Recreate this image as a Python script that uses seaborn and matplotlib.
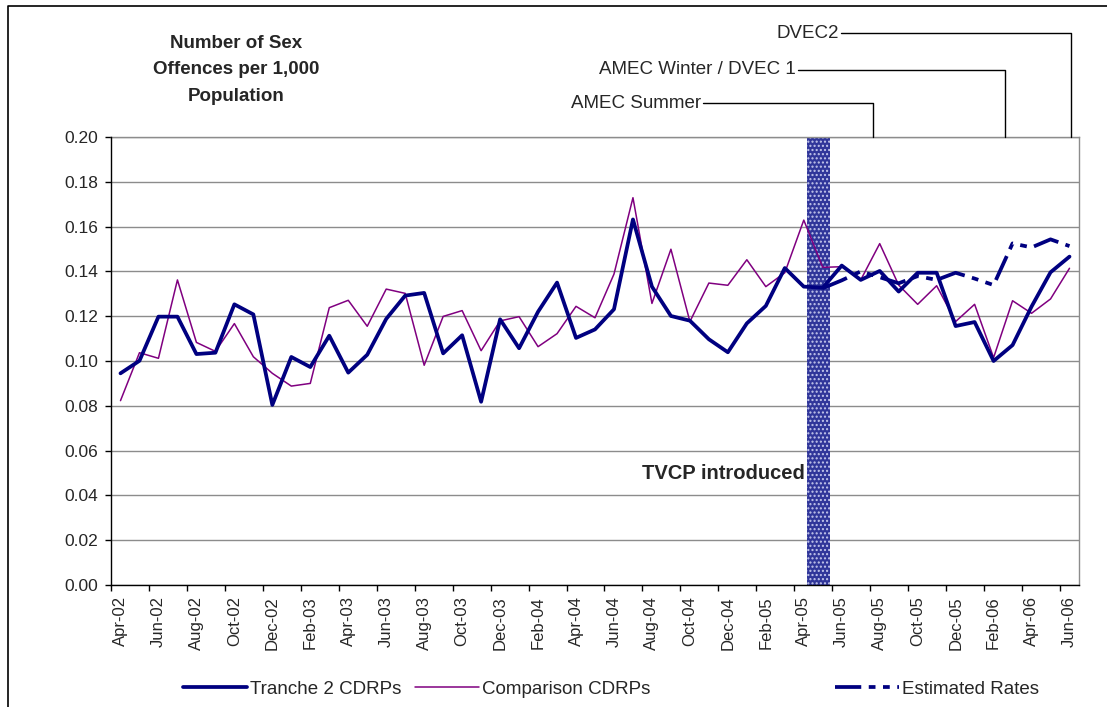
import numpy as np
import pandas as pd
import matplotlib
matplotlib.use("Agg")
import matplotlib.pyplot as plt
from matplotlib.lines import Line2D
import seaborn as sns

# ---------------- data ----------------
tick_labels = ["Apr-02", "Jun-02", "Aug-02", "Oct-02", "Dec-02", "Feb-03", "Apr-03",
               "Jun-03", "Aug-03", "Oct-03", "Dec-03", "Feb-04", "Apr-04", "Jun-04",
               "Aug-04", "Oct-04", "Dec-04", "Feb-05", "Apr-05", "Jun-05", "Aug-05",
               "Oct-05", "Dec-05", "Feb-06", "Apr-06", "Jun-06"]

tranche2 = [0.0945, 0.1001, 0.1198, 0.1198, 0.1031, 0.1037, 0.1253, 0.1208, 0.0804, 0.1018,
            0.0973, 0.1113, 0.0948, 0.1028, 0.1188, 0.1292, 0.1304, 0.1034, 0.1115, 0.0818,
            0.1186, 0.1057, 0.1220, 0.1350, 0.1103, 0.1141, 0.1231, 0.1632, 0.1332, 0.1201,
            0.1180, 0.1097, 0.1039, 0.1168, 0.1246, 0.1415, 0.1332, 0.1327, 0.1426, 0.1362,
            0.1402, 0.1310, 0.1394, 0.1394, 0.1156, 0.1174, 0.1000, 0.1071, 0.1243, 0.1396,
            0.1466]

comparison = [0.0823, 0.1037, 0.1012, 0.1362, 0.1083, 0.1043, 0.1167, 0.1019, 0.0945, 0.0888,
              0.0900, 0.1238, 0.1271, 0.1155, 0.1321, 0.1302, 0.0981, 0.1199, 0.1225, 0.1046,
              0.1179, 0.1198, 0.1064, 0.1122, 0.1244, 0.1193, 0.1388, 0.1729, 0.1257, 0.1499,
              0.1176, 0.1348, 0.1338, 0.1452, 0.1332, 0.1394, 0.1629, 0.1418, 0.1421, 0.1362,
              0.1524, 0.1339, 0.1253, 0.1336, 0.1176, 0.1253, 0.1015, 0.1269, 0.1213, 0.1277,
              0.1414]

estimated_start = 37  # May-05
estimated = [0.1325, 0.1360, 0.1400, 0.1374, 0.1347, 0.1379, 0.1362, 0.1394, 0.1368,
             0.1339, 0.1525, 0.1507, 0.1543, 0.1513]

events = ["AMEC Summer", "AMEC Winter / DVEC 1", "DVEC2"]
event_x = [39.63, 46.62, 50.06]

title_text = "Number of Sex\nOffences per 1,000\nPopulation"
band_label = "TVCP introduced"
band_range = (36.15, 37.40)

# ---------------- style ----------------
sns.set_style("white")
plt.rcParams["font.family"] = ["Liberation Sans", "DejaVu Sans"]

NAVY = "#000080"
PURPLE = "#800080"
GRID = "#8c8c8c"
DASH = (0, (7, 2.0, 1.8, 2.0, 1.8, 2.0))

W, H = 1107, 707
fig = plt.figure(figsize=(W / 100, H / 100), dpi=100)
ax = fig.add_axes([111 / W, 1 - 585 / H, (1079 - 111) / W, (585 - 137) / H])

n = len(tranche2)
df = pd.DataFrame({"idx": np.arange(n), "tranche2": tranche2, "comparison": comparison})
df_est = pd.DataFrame({"idx": np.arange(estimated_start, estimated_start + len(estimated)),
                       "est": estimated})

# band
ax.axvspan(band_range[0], band_range[1], facecolor="#30369a", edgecolor="#c4c7ec",
           hatch="....", linewidth=0, zorder=1)

sns.lineplot(data=df, x="idx", y="comparison", ax=ax, color=PURPLE, linewidth=1.1, zorder=3)
sns.lineplot(data=df, x="idx", y="tranche2", ax=ax, color=NAVY, linewidth=2.7, zorder=4)
sns.lineplot(data=df_est, x="idx", y="est", ax=ax, color=NAVY, linewidth=2.7,
             linestyle=DASH, zorder=5)

ax.set_xlim(-0.5, n - 0.5)
ax.set_ylim(0, 0.20)
ax.set_xlabel("")
ax.set_ylabel("")

# y axis
ax.set_yticks(np.arange(0, 0.2001, 0.02))
ax.set_yticklabels([f"{v:.2f}" for v in np.arange(0, 0.2001, 0.02)])
ax.tick_params(axis="y", direction="out", length=4, width=1, color="black",
               labelsize=12.5, pad=5, left=True)
ax.yaxis.grid(True, color=GRID, linewidth=1.0, zorder=0)
ax.set_axisbelow(True)

# x axis
ax.set_xticks(np.arange(0, n, 2))
ax.set_xticklabels(tick_labels, rotation=90)
ax.set_xticks(np.arange(-0.5, n - 1, 2), minor=True)
ax.tick_params(axis="x", which="major", length=0, labelsize=12, pad=8)
ax.tick_params(axis="x", which="minor", direction="out", length=4, width=1,
               color="black", bottom=True)

for s in ["left", "bottom"]:
    ax.spines[s].set_color("black")
    ax.spines[s].set_linewidth(1.0)
for s in ["top", "right"]:
    ax.spines[s].set_color(GRID)
    ax.spines[s].set_linewidth(1.0)
ax.spines["left"].set_zorder(6)
ax.spines["bottom"].set_zorder(6)

# band label
ax.text(band_range[0] - 0.1, 0.0496, band_label, ha="right", va="center",
        fontsize=14.5, fontweight="bold", zorder=7)

# title
fig.text(236 / W, 1 - 70 / H, title_text, ha="center", va="center", fontsize=13.5,
         fontweight="bold", linespacing=1.7)

# event annotations
top_fig = 1 - 137 / H
text_right = [701, 796, 839]
text_y = [103, 70, 33]
for lab, xd, xr, yy in zip(events, event_x, text_right, text_y):
    xpix = ax.transData.transform((xd, 0))[0]
    xf = xpix / W
    yf = 1 - yy / H
    fig.add_artist(Line2D([(xr + 2) / W, xf, xf], [yf, yf, top_fig],
                          transform=fig.transFigure, color="black", linewidth=1.0))
    fig.text(xr / W, yf, lab, ha="right", va="center", fontsize=13.5)

# legend entries
leg_specs = [
    ("Tranche 2 CDRPs", dict(color=NAVY, linewidth=2.7), 183),
    ("Comparison CDRPs", dict(color=PURPLE, linewidth=1.1), 415),
    ("Estimated Rates", dict(color=NAVY, linewidth=2.7, linestyle=DASH), 835),
]
for lab, kw, xp in leg_specs:
    h = Line2D([], [], **kw)
    lg = fig.legend(handles=[h], labels=[lab], loc="center left",
                    bbox_to_anchor=(xp / W, 1 - 689 / H), frameon=False, fontsize=13.5,
                    handlelength=3.4, handletextpad=0.15, borderpad=0, borderaxespad=0)

# outer border (left and top)
fig.add_artist(Line2D([8 / W, 8 / W, 1.0], [0.0, 1 - 6 / H, 1 - 6 / H],
                      transform=fig.transFigure, color="black", linewidth=1.2))

fig.savefig("out.png", dpi=100)
